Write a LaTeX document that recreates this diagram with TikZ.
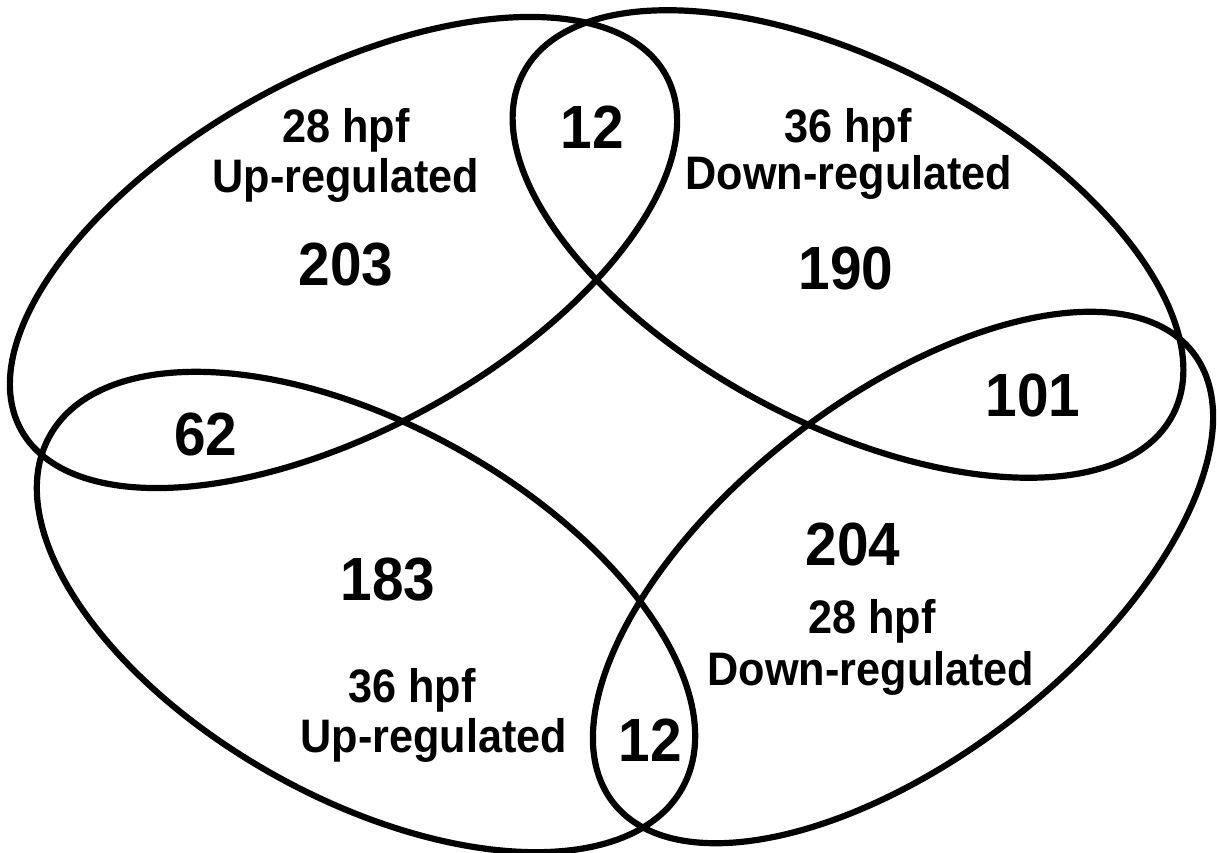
\documentclass[tikz,border=0pt]{standalone}
\usepackage{fontspec}
\setmainfont{Liberation Sans}
\begin{document}
\begin{tikzpicture}[x=1pt,y=1pt,
  setline/.style={line width=6.2pt},
  lbl/.style={font=\fontsize{47}{54}\selectfont\bfseries, inner sep=0pt, anchor=base, xscale=0.92},
  num/.style={font=\fontsize{61}{66}\selectfont\bfseries, inner sep=0pt, xscale=0.93}]
\useasboundingbox (0,0) rectangle (1217,852);
% sets
\draw[setline, rotate around={28.8:(343.5,599.5)}] (343.5,599.5) ellipse [x radius=368, y radius=177];
\draw[setline, rotate around={-27.8:(848,608)}] (848,608) ellipse [x radius=367, y radius=180];
\draw[setline, rotate around={-29.1:(366,240)}] (366,240) ellipse [x radius=362, y radius=187];
\draw[setline, rotate around={37.8:(903,274.5)}] (903,274.5) ellipse [x radius=367, y radius=179];
% labels
\node[lbl] (tla) at (346,709) {28 hpf};
\node[lbl] (tlb) at (346,659) {Up-regulated};
\node[lbl] (tra) at (848,709) {36 hpf};
\node[lbl] (trb) at (849,662) {Down-regulated};
\node[lbl] (bra) at (872,219) {28 hpf};
\node[lbl] (brb) at (871,167) {Down-regulated};
\node[lbl] (bla) at (412,150) {36 hpf};
\node[lbl] (blb) at (434,100) {Up-regulated};
% numbers
\node[num] (n203) at (346,587) {203};
\node[num] (n12t) at (592,725) {12};
\node[num] (n190) at (846,583) {190};
\node[num] (n62) at (206,417) {62};
\node[num] (n101) at (1033,456) {101};
\node[num] (n183) at (388,272) {183};
\node[num] (n204) at (853,307) {204};
\node[num] (n12b) at (650,112) {12};
\end{tikzpicture}
\end{document}
